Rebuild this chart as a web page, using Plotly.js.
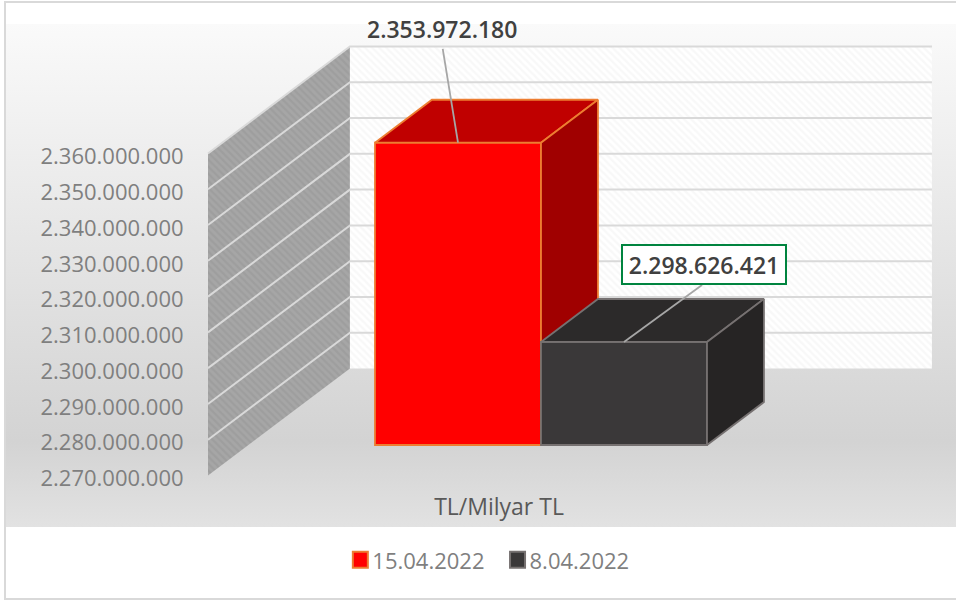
<!DOCTYPE html>
<html>
<head>
<meta charset="utf-8">
<script src="https://cdn.plot.ly/plotly-3.0.1.min.js"></script>
<style>
html,body{margin:0;padding:0;background:#fff;width:956px;height:601px;overflow:hidden}
#frame{position:absolute;left:4px;top:1px;width:960px;height:599px;box-sizing:border-box;border:2px solid #d9d9d9;background:#fff}
#band{position:absolute;left:6px;top:24px;width:950px;height:503px;background:linear-gradient(to bottom,#fafafa 0%,#d3d3d3 83%,#e2e2e2 100%)}
#chart{position:absolute;left:0;top:0;width:956px;height:601px}
</style>
</head>
<body>
<div id="frame"></div>
<div id="band"></div>
<div id="chart"></div>
<script>
// ---- data ----
const seriesNames = ['15.04.2022', '8.04.2022'];
const seriesValues = [2353972180, 2298626421];
const categoryLabel = 'TL/Milyar TL';
const tickValues = [2270000000, 2280000000, 2290000000, 2300000000, 2310000000,
                    2320000000, 2330000000, 2340000000, 2350000000, 2360000000];

// ---- styling ----
const frontColors = ['#ff0000', '#3a3839'];
const topColors   = ['#c00000', '#2c2a2a'];
const sideColors  = ['#a00000', '#262424'];
const edgeColors  = ['#ed7d31', '#767171'];

// ---- oblique projection in axis units ----
const axisMin = tickValues[0], axisMax = tickValues[tickValues.length - 1];
const M = 1e6;
const wallDx = 0.855, wallDy = 29.9 * M;      // depth of the floor/side wall
const floorRight = 1.753, floorLeft = -1.753;
const barShiftX = 0.253, barShiftY = 8.52 * M; // bars sit part way into the depth
const barDx = 0.343, barDy = 12 * M;           // depth of a bar
const barScale = 1.0062;
const pxPerValue = 3.578 / M;
const pxY = p => axisMin + (475.5 - p) / pxPerValue;
const yRange = [pxY(480), pxY(24)];
const xRange = [(200 - 499) / 166, (956 - 499) / 166];

const barBase = axisMin + barShiftY;
const barTop = v => barBase + (v - axisMin) * barScale;

const traces = [];
// side wall
traces.push({type:'scatter', mode:'lines', xaxis:'x', yaxis:'y', hoverinfo:'skip', showlegend:false,
  x:[floorLeft, floorLeft, floorLeft + wallDx, floorLeft + wallDx, floorLeft],
  y:[axisMin, axisMax, axisMax + wallDy, axisMin + wallDy, axisMin],
  fill:'toself', fillcolor:'#a6a6a6', line:{width:0},
  fillpattern:{shape:'\\', bgcolor:'#a6a6a6', fgcolor:'#9e9e9e', size:5, solidity:0.45}});
// back wall
traces.push({type:'scatter', mode:'lines', xaxis:'x', yaxis:'y', hoverinfo:'skip', showlegend:false,
  x:[floorLeft + wallDx, floorLeft + wallDx, floorRight + wallDx, floorRight + wallDx, floorLeft + wallDx],
  y:[axisMin + wallDy, axisMax + wallDy, axisMax + wallDy, axisMin + wallDy, axisMin + wallDy],
  fill:'toself', fillcolor:'#ffffff', line:{width:0},
  fillpattern:{shape:'\\', bgcolor:'#ffffff', fgcolor:'#f8f8f8', size:5, solidity:0.45}});
// gridlines
const gridTicks = tickValues.slice(1);
traces.push({type:'scatter', mode:'lines', xaxis:'x', yaxis:'y', hoverinfo:'skip', showlegend:false,
  x: gridTicks.flatMap(() => [floorLeft, floorLeft + wallDx, floorRight + wallDx, null]),
  y: gridTicks.flatMap(t => [t, t + wallDy, t + wallDy, null]),
  line:{color:'#d9d9d9', width:2}});

// bars: each one on its own overlaying subplot so the nearer bar hides the one behind it
seriesValues.forEach((v, i) => {
  const xa = i === 0 ? 'x2' : 'x3', ya = i === 0 ? 'y2' : 'y3';
  const left = i - 1 + barShiftX, right = left + 1, top = barTop(v);
  traces.push({type:'bar', name:seriesNames[i], xaxis:xa, yaxis:ya, x:[left + 0.5], y:[top - barBase], base:[barBase],
    width:[1], marker:{color:frontColors[i], line:{color:edgeColors[i], width:1.8}},
    customdata:[v], hovertemplate:'%{customdata:,d}<extra>'+seriesNames[i]+'</extra>'});
  traces.push({type:'scatter', mode:'lines', xaxis:xa, yaxis:ya, hoverinfo:'skip', showlegend:false,
    x:[left, left + barDx, right + barDx, right, left],
    y:[top, top + barDy, top + barDy, top, top],
    fill:'toself', fillcolor:topColors[i], line:{color:edgeColors[i], width:1.8}});
  traces.push({type:'scatter', mode:'lines', xaxis:xa, yaxis:ya, hoverinfo:'skip', showlegend:false,
    x:[right, right + barDx, right + barDx, right, right],
    y:[top, top + barDy, barBase + barDy, barBase, top],
    fill:'toself', fillcolor:sideColors[i], line:{color:edgeColors[i], width:1.8}});
});

// leader lines and data labels
const leaderEnd = [[-0.092, 26.2 * M], [0.47, 15.9 * M]];
const labelPos  = [[-0.0955, 31.8 * M], [0.482, 21.66 * M]];
seriesValues.forEach((v, i) => {
  const cx = i - 0.5 + barShiftX, top = barTop(v);
  traces.push({type:'scatter', mode:'lines', xaxis:'x3', yaxis:'y3', hoverinfo:'skip', showlegend:false,
    x:[cx, cx + leaderEnd[i][0]], y:[top, top + leaderEnd[i][1]],
    line:{color:'#a6a6a6', width:1.8}});
});
const fmt = n => String(n).replace(/\B(?=(\d{3})+(?!\d))/g, '.');
const annotations = seriesValues.map((v, i) => {
  const a = {xref:'x3', yref:'y3', x:i - 0.5 + barShiftX + labelPos[i][0], y:barTop(v) + labelPos[i][1],
    text:fmt(v), showarrow:false, xanchor:'center', yanchor:'middle',
    font:{family:'"Open Sans", sans-serif', size:23, color:'#404040', weight:600}};
  if (i === 1) { a.bgcolor = '#ffffff'; a.bordercolor = '#00843f'; a.borderwidth = 2; a.borderpad = 0; a.width = 162; a.height = 37; }
  return a;
});

const hiddenX = {range:xRange, visible:false, overlaying:'x', fixedrange:true};
const hiddenY = {range:yRange, visible:false, overlaying:'y', fixedrange:true};
const layout = {
  width:956, height:601, autosize:false,
  margin:{l:200, r:0, t:24, b:121, pad:0},
  paper_bgcolor:'rgba(0,0,0,0)', plot_bgcolor:'rgba(0,0,0,0)',
  separators:',.',
  font:{family:'"Open Sans", sans-serif', color:'#7f7f7f'},
  barmode:'overlay',
  xaxis:{range:xRange, tickmode:'array', tickvals:[0], ticktext:[categoryLabel], showgrid:false, zeroline:false,
    showline:false, ticks:'outside', ticklen:6, tickcolor:'rgba(0,0,0,0)', fixedrange:true,
    tickfont:{size:23, color:'#595959'}},
  yaxis:{range:yRange, tickmode:'array', tickvals:tickValues, tickformat:',d', showgrid:false, zeroline:false,
    showline:false, ticks:'outside', ticklen:11, tickcolor:'rgba(0,0,0,0)', fixedrange:true,
    ticklabelshift:3, tickfont:{size:22, color:'#7f7f7f'}},
  xaxis2:hiddenX, yaxis2:hiddenY, xaxis3:hiddenX, yaxis3:hiddenY,
  annotations,
  showlegend:true,
  legend:{orientation:'h', xref:'container', yref:'container', x:0.356, xanchor:'left', y:1 - 561 / 601, yanchor:'middle',
    font:{size:22, color:'#7f7f7f'}, bgcolor:'rgba(0,0,0,0)', itemclick:false, itemdoubleclick:false}
};
Plotly.newPlot('chart', traces, layout, {displayModeBar:false}).then(() => {
  // the reference's legend keys are larger and sit closer to their text
  document.querySelectorAll('.legend .legendpoints path').forEach(p => {
    p.setAttribute('d', 'M7.5,7H-7.5V-9H7.5Z');
    p.style.strokeWidth = '2px';
  });
  document.querySelectorAll('.legend .legendtext').forEach(t => t.setAttribute('x', '32'));
});
</script>
</body>
</html>
